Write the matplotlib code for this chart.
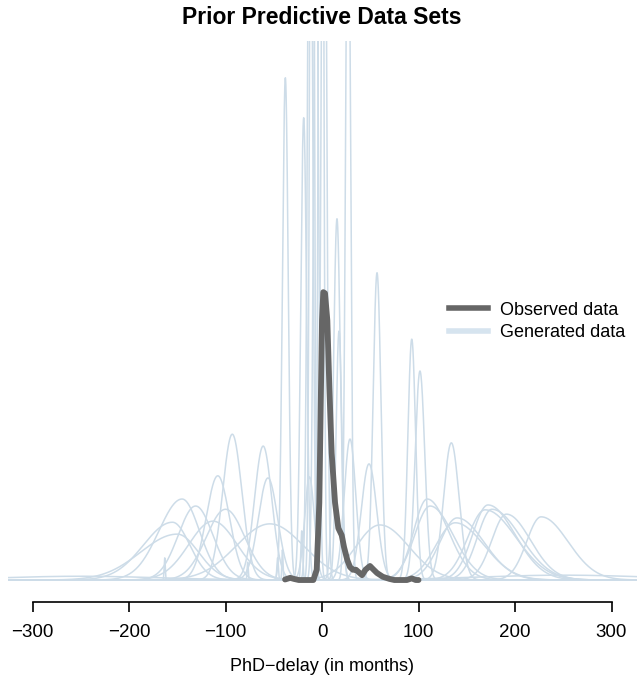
import numpy as np
import matplotlib
matplotlib.use("Agg")
import matplotlib.pyplot as plt

plt.rcParams['font.family'] = ['Liberation Sans', 'DejaVu Sans']

# generated (prior predictive) density curves: peak location, left/right spread, peak height
gen_center = [-93, -61, -108, -56, -145, -131, -155, -100, -113, -150, -54, -13,
              -38, -19, -12.4, -10.4, -6.2, -1, 2, 27,
              15.5, 17.6, 57, 93, 101.5, 29, 48.7, 60,
              134, 109, 112, 140, 138, 172, 169, 176, 191, 227,
              -250, 250,
              -163, -77, -46, -41, -21]
gen_sd_left = [10, 9, 12, 10, 24, 18, 30, 20, 25, 38, 35, 5,
               3, 3, 2.5, 2, 2.5, 2, 2.5, 2.5,
               3.5, 3, 4, 4, 5, 6, 8, 25,
               8, 14, 16, 18, 20, 16, 18, 15, 15, 15,
               80, 90,
               0.6, 0.6, 0.8, 0.6, 1]
gen_sd_right = [10, 9, 12, 10, 18, 18, 18, 20, 25, 22, 35, 5,
                3, 3, 2.5, 2, 2.5, 2, 2.5, 2.5,
                3.5, 3, 4, 4, 5, 6, 8, 30,
                8, 22, 24, 28, 30, 28, 32, 30, 25, 28,
                80, 90,
                0.6, 0.6, 0.8, 0.6, 1]
gen_peak = [0.0270, 0.0248, 0.0193, 0.0189, 0.0150, 0.0137, 0.0107, 0.0131, 0.0109, 0.0085, 0.0104, 0.0191,
            0.0930, 0.0856, 0.16, 0.22, 0.13, 0.30, 0.18, 0.14,
            0.0669, 0.0461, 0.0569, 0.0446, 0.0387, 0.0261, 0.0215, 0.0102,
            0.0254, 0.0150, 0.0137, 0.0115, 0.0106, 0.0139, 0.0130, 0.0131, 0.0122, 0.0117,
            0.0007, 0.0009,
            0.0041, 0.0033, 0.0041, 0.0056, 0.0091]

# observed data density
obs_x = [-38.3, -33, -29, -24, -9, -5.5, -2.8, -1.3, 0, 1.3, 3.1, 5.5, 7.6, 10, 13.5, 16.9,
         20.4, 22.8, 26.2, 29, 32, 35.2, 41.5, 45, 49.7, 53, 57, 63, 70, 75, 88, 93, 97, 100]
obs_y = [0.0001, 0.0004, 0.0002, 0, 0, 0.0019, 0.0143, 0.0328, 0.0481, 0.0533, 0.0531, 0.0481,
         0.0357, 0.0235, 0.0143, 0.0096, 0.0083, 0.0061, 0.0037, 0.0024, 0.0019, 0.0019, 0.0009,
         0.0019, 0.0026, 0.0020, 0.0013, 0.0006, 0.0002, 0, 0, 0.0003, 0, 0]

gen_color = '#cddce8'
obs_color = '#666666'

fig = plt.figure(figsize=(6.37, 6.8), dpi=100)
ax = fig.add_axes([8 / 637, 78 / 680, 629 / 637, 561 / 680])

grid = np.linspace(-330, 330, 8000)
for c, sl, sr, h in zip(gen_center, gen_sd_left, gen_sd_right, gen_peak):
    sd = np.where(grid < c, sl, sr)
    ax.plot(grid, h * np.exp(-0.5 * ((grid - c) / sd) ** 2), color=gen_color, lw=1.1)

ax.plot(obs_x, obs_y, color=obs_color, lw=4.2, solid_capstyle='round', solid_joinstyle='round')

ax.set_xlim(-325.4, 326.4)
ax.set_ylim(-0.00407, 0.09981)

for side in ['left', 'right', 'top']:
    ax.spines[side].set_visible(False)
ax.spines['bottom'].set_bounds(-300, 300)
ax.spines['bottom'].set_linewidth(1.2)
ax.set_yticks([])
ax.set_xticks(np.arange(-300, 301, 100))
ax.tick_params(axis='x', direction='out', length=7.5, width=1.2, labelsize=13.5, pad=8.5)
ax.set_xlabel('PhD\u2212delay (in months)', fontsize=13, labelpad=12)

fig.suptitle('Prior Predictive Data Sets', x=322 / 637, y=1 - 17 / 680, va='center',
             fontsize=16.5, fontweight='bold')

handles = [plt.Line2D([], [], color=obs_color, lw=4),
           plt.Line2D([], [], color='#d6e4ef', lw=4)]
ax.legend(handles, ['Observed data', 'Generated data'], loc='center left',
          bbox_to_anchor=(449 / 637, 1 - 321.5 / 680), bbox_transform=fig.transFigure,
          frameon=False, fontsize=13, handlelength=2.15, handletextpad=0.65,
          labelspacing=0.3, borderpad=0, borderaxespad=0)

fig.savefig('out.png', dpi=100)
